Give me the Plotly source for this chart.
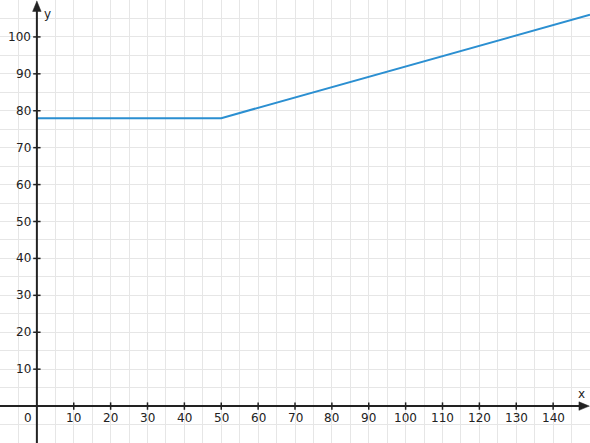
import plotly.graph_objects as go

# Data
line_x = [0, 50, 150]
line_y = [78, 78, 106]
x_ticks = [10, 20, 30, 40, 50, 60, 70, 80, 90, 100, 110, 120, 130, 140]
y_ticks = [10, 20, 30, 40, 50, 60, 70, 80, 90, 100]

X_RANGE = [-10, 150]
Y_RANGE = [-10, 110]
AXIS_COLOR = "#222222"
FONT = "DejaVu Sans"

fig = go.Figure()
fig.add_trace(go.Scatter(x=line_x, y=line_y, mode="lines",
                         line=dict(color="#2b8fd1", width=2), hoverinfo="skip",
                         showlegend=False))

shapes = []
# axes
shapes.append(dict(type="line", xref="x", yref="y", x0=X_RANGE[0], x1=X_RANGE[1] - 2,
                   y0=0, y1=0, line=dict(color=AXIS_COLOR, width=2)))
shapes.append(dict(type="line", xref="x", yref="y", x0=0, x1=0,
                   y0=Y_RANGE[0], y1=Y_RANGE[1] - 2, line=dict(color=AXIS_COLOR, width=2)))
# tick marks
for t in x_ticks:
    shapes.append(dict(type="line", xref="x", yref="y", x0=t, x1=t, y0=-1, y1=1,
                       line=dict(color=AXIS_COLOR, width=1.5)))
for t in y_ticks:
    shapes.append(dict(type="line", xref="x", yref="y", x0=-1, x1=1, y0=t, y1=t,
                       line=dict(color=AXIS_COLOR, width=1.5)))
# arrowheads
shapes.append(dict(type="path", xref="x", yref="y",
                   path=f"M {X_RANGE[1]-0.2} 0 L {X_RANGE[1]-3.0} 1.15 L {X_RANGE[1]-3.0} -1.15 Z",
                   fillcolor=AXIS_COLOR, line=dict(color=AXIS_COLOR, width=0.5)))
shapes.append(dict(type="path", xref="x", yref="y",
                   path=f"M 0 {Y_RANGE[1]-0.3} L -1.15 {Y_RANGE[1]-3.1} L 1.15 {Y_RANGE[1]-3.1} Z",
                   fillcolor=AXIS_COLOR, line=dict(color=AXIS_COLOR, width=0.5)))

annotations = []
for t in x_ticks:
    annotations.append(dict(x=t, y=0, xref="x", yref="y", text=str(t), showarrow=False,
                            yshift=-12, font=dict(family=FONT, size=12, color="#222")))
for t in y_ticks:
    annotations.append(dict(x=0, y=t, xref="x", yref="y", text=str(t), showarrow=False,
                            xanchor="right", xshift=-4, font=dict(family=FONT, size=12, color="#222")))
annotations.append(dict(x=0, y=0, xref="x", yref="y", text="0", showarrow=False,
                        xanchor="right", xshift=-3, yshift=-12, font=dict(family=FONT, size=12, color="#222")))
annotations.append(dict(x=0, y=Y_RANGE[1], xref="x", yref="y", text="y", showarrow=False,
                        xanchor="left", yanchor="top", xshift=5, yshift=-5,
                        font=dict(family=FONT, size=12, color="#222")))
annotations.append(dict(x=X_RANGE[1], y=0, xref="x", yref="y", text="x", showarrow=False,
                        xanchor="right", yanchor="bottom", xshift=-3, yshift=3,
                        font=dict(family=FONT, size=12, color="#222")))

fig.update_layout(
    width=590, height=443,
    margin=dict(l=0, r=0, t=0, b=0),
    paper_bgcolor="white", plot_bgcolor="white",
    shapes=shapes, annotations=annotations,
    xaxis=dict(range=X_RANGE, dtick=5, tick0=0, showgrid=True, gridcolor="#e6e6e6",
               gridwidth=1, zeroline=False, showticklabels=False, ticks="", fixedrange=True),
    yaxis=dict(range=Y_RANGE, dtick=5, tick0=0, showgrid=True, gridcolor="#e6e6e6",
               gridwidth=1, zeroline=False, showticklabels=False, ticks="", fixedrange=True),
)

fig.write_html("out.html", config={"displayModeBar": False},
               post_script="document.body.style.margin='0';document.body.style.overflow='hidden';")
